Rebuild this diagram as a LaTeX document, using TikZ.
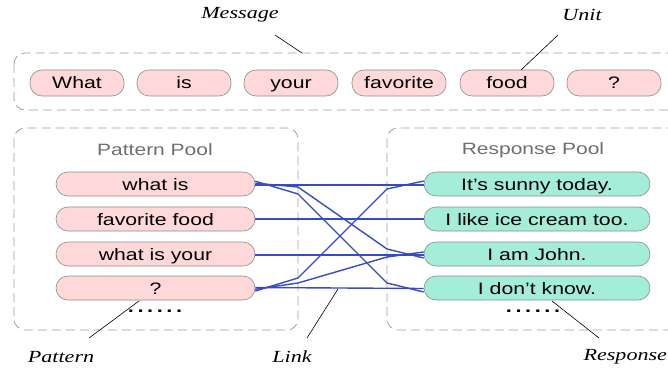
\documentclass[tikz,border=0pt]{standalone}
\usepackage{fontspec}
\setsansfont{Liberation Sans}[FakeStretch=1.28]
\setmainfont{Liberation Serif}[FakeStretch=1.3]
\definecolor{pinkfill}{RGB}{255,217,217}
\definecolor{greenfill}{RGB}{164,237,217}
\definecolor{pillborder}{RGB}{140,140,140}
\definecolor{poolgray}{RGB}{160,160,160}
\definecolor{labelgray}{RGB}{110,110,110}
\definecolor{linkblue}{RGB}{55,75,200}
\tikzset{
  pill/.style={draw=pillborder, line width=0.6pt, rounded corners=12pt, inner sep=0pt,
    font=\sffamily\fontsize{16.6}{16.6}\selectfont, text height=12pt, text depth=0pt},
  unitpill/.style={pill, fill=pinkfill, minimum width=94pt, minimum height=26pt},
  patpill/.style={pill, fill=pinkfill, minimum width=199pt, minimum height=24pt},
  respill/.style={pill, fill=greenfill, minimum width=226pt, minimum height=24pt},
  poolbox/.style={draw=poolgray, line width=0.8pt, dash pattern=on 9pt off 5pt, rounded corners=11pt},
  poollabel/.style={font=\sffamily\fontsize{16.4}{16.4}\selectfont, text=labelgray},
  annot/.style={font=\rmfamily\itshape\fontsize{17}{17}\selectfont},
  annotline/.style={draw=black, line width=0.6pt},
  link/.style={draw=linkblue, line width=1.4pt},
  dots/.style={font=\sffamily\bfseries\fontsize{17}{17}\selectfont}
}
\begin{document}
\begin{tikzpicture}[x=1pt,y=-1pt]
\useasboundingbox (0,0) rectangle (668,371);
\clip (0,0) rectangle (668,371);
% boxes
\draw[poolbox] (14,53) rectangle (720,110);
\draw[poolbox] (14,128) rectangle (298,330);
\draw[poolbox] (387,128) rectangle (720,330);
% message units
\node[unitpill] (u1) at (77,83) {What};
\node[unitpill] (u2) at (184,83) {is};
\node[unitpill] (u3) at (291,83) {your};
\node[unitpill] (u4) at (399,83) {favorite};
\node[unitpill] (u5) at (507,83) {food};
\node[unitpill] (u6) at (614,83) {?};
% pool labels
\node[poollabel] (pl) at (155,150) {Pattern Pool};
\node[poollabel] (rl) at (533,150) {Response Pool};
% patterns
\node[patpill] (p1) at (155.5,184) {what is};
\node[patpill] (p2) at (155.5,219) {favorite food};
\node[patpill] (p3) at (155.5,254) {what is your};
\node[patpill] (p4) at (155.5,288) {?};
\node[dots] (pd) at (155,311) {.\hspace{3.6pt}.\hspace{3.6pt}.\hspace{3.6pt}.\hspace{3.6pt}.\hspace{3.6pt}.};
% responses
\node[respill] (r1) at (537,184) {It’s sunny today.};
\node[respill] (r2) at (537,219) {I like ice cream too.};
\node[respill] (r3) at (537,254) {I am John.};
\node[respill] (r4) at (537,288) {I don’t know.};
\node[dots] (rd) at (533,311) {.\hspace{3.6pt}.\hspace{3.6pt}.\hspace{3.6pt}.\hspace{3.6pt}.\hspace{3.6pt}.};
% links
\draw[link] ([yshift=-1pt]p1.east) -- ([yshift=-1pt]r1.west);
\draw[link] ([yshift=0.8pt]p1.east) -- (298,187) -- (387,249) -- ([yshift=-4pt]r3.west);
\draw[link] ([yshift=2.8pt]p1.east) -- (298,194) -- (387,283) -- ([yshift=-4pt]r4.west);
\draw[link] (p2.east) -- (r2.west);
\draw[link] ([yshift=-1pt]p3.east) -- ([yshift=-1pt]r3.west);
\draw[link] ([yshift=-3pt]p4.east) -- (298,278) -- (387,189) -- ([yshift=3pt]r1.west);
\draw[link] ([yshift=-1.2pt]p4.east) -- (298,283) -- (387,257) -- ([yshift=2pt]r3.west);
\draw[link] ([yshift=0.5pt]p4.east) -- ([yshift=-0.5pt]r4.west);
% annotations
\node[annot] (lmsg) at (240,15) {Message};
\node[annot] (lunit) at (582,15) {Unit};
\node[annot] (lpat) at (61,357) {Pattern};
\node[annot] (llink) at (292,357) {Link};
\node[annot, anchor=west] (lresp) at (580,357) {Response};
\coordinate (cm1) at (275,35); \coordinate (cm2) at (302,53);
\coordinate (cu1) at (558,35); \coordinate (cu2) at (521,70);
\coordinate (cp1) at (89,338); \coordinate (cp2) at (139,301);
\coordinate (cl1) at (307,338); \coordinate (cl2) at (338,289);
\coordinate (cr1) at (599,338); \coordinate (cr2) at (552,301);
\draw[annotline] (cm1) -- (cm2);
\draw[annotline] (cu1) -- (cu2);
\draw[annotline] (cp1) -- (cp2);
\draw[annotline] (cl1) -- (cl2);
\draw[annotline] (cr1) -- (cr2);
\end{tikzpicture}
\end{document}
